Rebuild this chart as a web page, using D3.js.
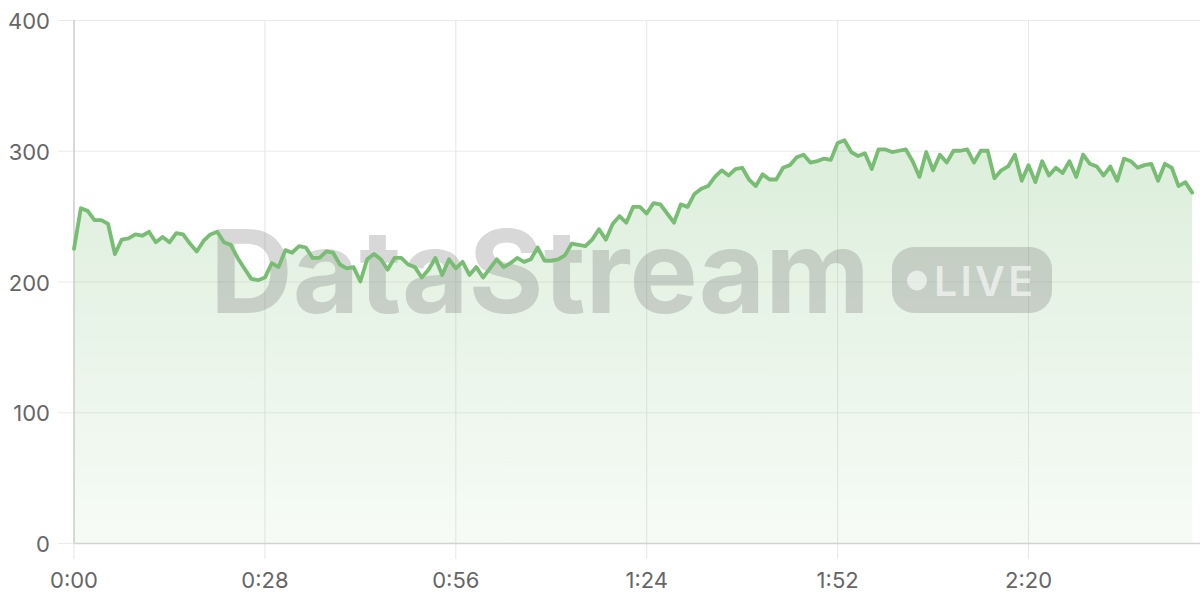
<!DOCTYPE html>
<html>
<head>
<meta charset="utf-8">
<script src="https://cdn.jsdelivr.net/npm/d3@7/dist/d3.min.js"></script>
<style>
  html, body { margin: 0; padding: 0; background: #fff; }
  svg { display: block; font-family: Inter, "Noto Sans", sans-serif; }
</style>
</head>
<body>
<svg id="chart" width="1200" height="600"></svg>
<script>
// ---- data ----
const seconds = d3.range(0, 165); // one sample per second
const values = [
  225,256,254,247,247,244,221,232,233,236,235,238,230,234,230,237,236,229,223,231,
  236,238,230,228,218,210,202,201,203,214,211,224,222,227,226,218,218,223,222,213,
  210,211,200,217,221,217,209,218,218,213,211,203,209,218,205,217,210,215,205,211,
  203,210,217,211,214,218,215,217,226,216,216,217,220,229,228,227,232,240,232,244,
  250,245,257,257,252,260,259,252,245,259,257,267,271,273,280,285,281,286,287,278,
  273,282,278,278,287,289,295,297,291,292,294,293,306,308,299,296,298,286,301,301,
  299,300,301,292,280,299,285,297,291,300,300,301,291,300,300,279,285,288,297,277,
  289,276,292,281,287,283,292,280,297,290,288,281,288,277,294,292,287,289,290,277,
  290,287,273,276,268
];
const xTicks = [0, 28, 56, 84, 112, 140];
const yTicks = [0, 100, 200, 300, 400];
const xDomain = [0, 165];
const yDomain = [0, 400];
const watermarkText = "DataStream";
const badgeText = "LIVE";

// ---- layout ----
(function () {
const svg = d3.select("#chart");
const pl = 74, pr = 1199, pt = 20, pb = 543;
const x = d3.scaleLinear().domain(xDomain).range([pl, pr]);
const y = d3.scaleLinear().domain(yDomain).range([pb, pt]);
const fmt = s => Math.floor(s / 60) + ":" + String(s % 60).padStart(2, "0");
const data = seconds.map((s, i) => ({ s, v: values[i] }));

// gradient
const defs = svg.append("defs");
const grad = defs.append("linearGradient")
  .attr("id", "areaGrad").attr("gradientUnits", "userSpaceOnUse")
  .attr("x1", 0).attr("x2", 0)
  .attr("y1", y(d3.max(values))).attr("y2", y(0));
grad.append("stop").attr("offset", "0%").attr("stop-color", "#78bd73").attr("stop-opacity", 0.26);
grad.append("stop").attr("offset", "100%").attr("stop-color", "#78bd73").attr("stop-opacity", 0.06);

// grid
const grid = svg.append("g");
grid.selectAll(".hg").data(yTicks).join("line")
  .attr("x1", pl - 16).attr("x2", 1200)
  .attr("y1", d => y(d) + 0.5).attr("y2", d => y(d) + 0.5)
  .attr("stroke", "#ebebeb").attr("stroke-width", 1);
grid.selectAll(".vg").data(xTicks).join("line")
  .attr("x1", d => x(d)).attr("x2", d => x(d))
  .attr("y1", pt).attr("y2", pb + 16)
  .attr("stroke", "#e6e6e6").attr("stroke-width", 1);

// area
svg.append("path").datum(data)
  .attr("fill", "url(#areaGrad)")
  .attr("d", d3.area().x(d => x(d.s)).y0(y(0)).y1(d => y(d.v)));

// axis lines
svg.append("line").attr("x1", pl).attr("x2", pl).attr("y1", pt).attr("y2", pb)
  .attr("stroke", "#cfcfcf").attr("stroke-width", 1.5);
svg.append("line").attr("x1", pl).attr("x2", 1200).attr("y1", pb + 0.5).attr("y2", pb + 0.5)
  .attr("stroke", "#cfd4cf").attr("stroke-width", 1.5);

// watermark
const wm = svg.append("g").attr("pointer-events", "none");
wm.append("text")
  .attr("x", 210).attr("y", 313)
  .attr("textLength", 660).attr("lengthAdjust", "spacingAndGlyphs")
  .attr("font-size", 115).attr("font-weight", 700)
  .attr("fill", "#7a7a7a").attr("fill-opacity", 0.29)
  .text(watermarkText);
wm.append("rect")
  .attr("x", 892).attr("y", 247).attr("width", 160).attr("height", 66).attr("rx", 22)
  .attr("fill", "#7a7a7a").attr("fill-opacity", 0.29);
wm.append("circle").attr("cx", 917).attr("cy", 280.5).attr("r", 10)
  .attr("fill", "#fff").attr("fill-opacity", 0.6);
wm.append("text")
  .attr("x", 934).attr("y", 296)
  .attr("textLength", 99).attr("lengthAdjust", "spacing")
  .attr("font-size", 41).attr("font-weight", 600)
  .attr("fill", "#fff").attr("fill-opacity", 0.6)
  .text(badgeText);

// line
svg.append("path").datum(data)
  .attr("fill", "none").attr("stroke", "#78bd73").attr("stroke-width", 3.8)
  .attr("stroke-linejoin", "round").attr("stroke-linecap", "round")
  .attr("d", d3.line().x(d => x(d.s)).y(d => y(d.v)));

// labels
svg.append("g").selectAll("text").data(yTicks).join("text")
  .attr("x", 50).attr("y", d => y(d) + 9)
  .attr("text-anchor", "end").attr("font-size", 22).attr("fill", "#666")
  .text(d => d);
svg.append("g").selectAll("text").data(xTicks).join("text")
  .attr("x", d => x(d)).attr("y", 588)
  .attr("text-anchor", "middle").attr("font-size", 22).attr("fill", "#666")
  .text(d => fmt(d));
})();
</script>
</body>
</html>
